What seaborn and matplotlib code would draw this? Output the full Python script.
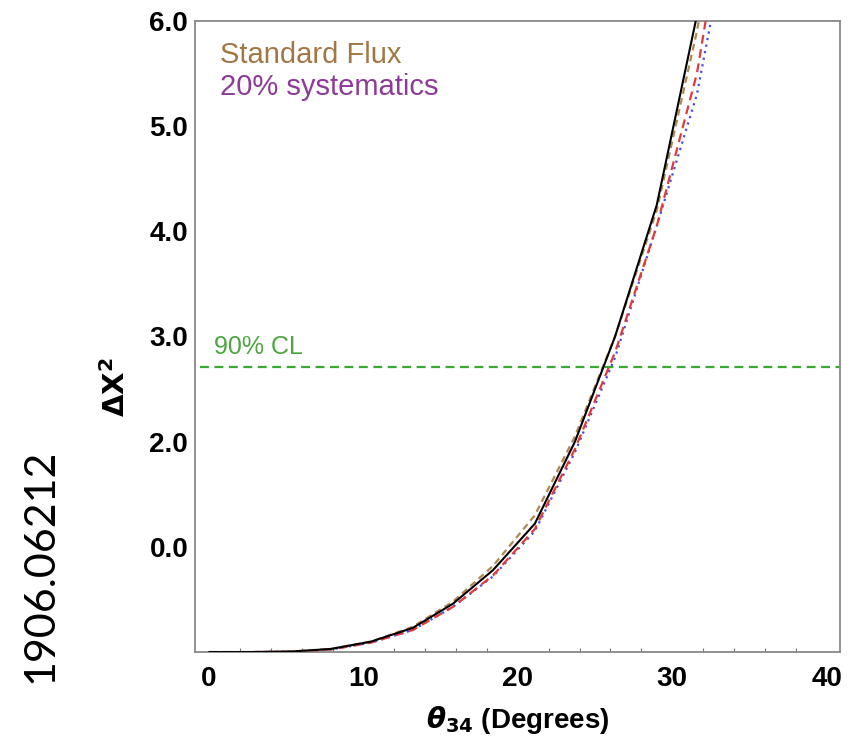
import matplotlib
matplotlib.use("Agg")
import matplotlib.pyplot as plt
from matplotlib.ticker import MultipleLocator, FixedLocator, FixedFormatter
import seaborn as sns
import numpy as np

sns.set_style("white")
plt.rcParams['font.family'] = ['Liberation Sans', 'DejaVu Sans']
plt.rcParams['text.color'] = 'black'
plt.rcParams['axes.labelcolor'] = 'black'
plt.rcParams['xtick.color'] = 'black'
plt.rcParams['ytick.color'] = 'black'

# ---- data ----
theta = [0, 2.6, 5.3, 7.9, 10.5, 13.2, 15.8, 18.4, 21.1, 23.7, 26.3, 29.0, 31.6, 34.2]
chi_black = [0, 0.0, 0.005, 0.03, 0.10, 0.23, 0.46, 0.78, 1.22, 2.00, 3.00, 4.25, 6.05, 8.0]
chi_brown = [0, 0.0, 0.005, 0.03, 0.10, 0.24, 0.48, 0.82, 1.30, 2.05, 3.00, 4.20, 5.90, 8.0]
chi_red = [0, 0.0, 0.004, 0.025, 0.09, 0.21, 0.43, 0.73, 1.17, 1.93, 2.85, 4.05, 5.50, 7.8]
chi_blue = [0, 0.0, 0.004, 0.025, 0.09, 0.21, 0.43, 0.72, 1.15, 1.90, 2.80, 4.05, 5.30, 7.3]
cl90 = 2.71
ytick_pos = [1, 2, 3, 4, 5, 6]
ytick_labels = ['0.0', '2.0', '3.0', '4.0', '5.0', '6.0']
xtick_pos = [0, 10, 20, 30, 40]

fig = plt.figure(figsize=(8.56, 7.41), dpi=100)
ax = fig.add_axes([0.228, 0.120, 0.753, 0.852])

# green CL line
ax.plot([-0.6, 41], [cl90, cl90], color='#3aa832', lw=1.6, ls=(0, (4, 2.5)), zorder=2)
ax.text(0.35, 2.79, '90% CL', color='#4aa83e', fontsize=18, va='bottom', ha='left')

sns.lineplot(x=theta, y=chi_blue, color='#4a4ae6', lw=1.6, ax=ax, ls=(0, (1, 2)), zorder=3)
sns.lineplot(x=theta, y=chi_red, color='#e23a3a', lw=1.6, ax=ax, ls=(0, (4, 2.5)), zorder=3)
sns.lineplot(x=theta, y=chi_brown, color='#b08850', lw=1.6, ax=ax, ls=(0, (3, 2)), zorder=3)
sns.lineplot(x=theta, y=chi_black, color='black', lw=1.5, ax=ax, zorder=4)

ax.set_xlim(-0.9, 40.85)
ax.set_ylim(0, 6)

ax.xaxis.set_major_locator(FixedLocator(xtick_pos))
ax.xaxis.set_minor_locator(MultipleLocator(2))
ax.yaxis.set_major_locator(FixedLocator(ytick_pos))
ax.yaxis.set_major_formatter(FixedFormatter(ytick_labels))

ax.tick_params(axis='both', which='major', direction='in', length=5, width=1, color='#777777',
               labelsize=20, labelcolor='black')
ax.tick_params(axis='x', which='major', pad=10)
ax.tick_params(axis='y', which='major', pad=5)
ax.tick_params(axis='x', which='minor', direction='in', length=3, width=0.8, color='#777777', bottom=True)
ax.tick_params(axis='y', which='minor', left=False)
for lab in ax.get_xticklabels() + ax.get_yticklabels():
    lab.set_fontweight('bold')

for sp in ax.spines.values():
    sp.set_color('#888888')
    sp.set_linewidth(1.3)

ax.set_xlabel(r'$\boldsymbol{\theta}_{\mathbf{34}}$ (Degrees)', fontsize=20, fontweight='bold')
ax.xaxis.set_label_coords(0.5, -0.082)
ax.set_ylabel(r'$\mathbf{\Delta X^2}$', fontsize=21, fontweight='bold')
ax.yaxis.set_label_coords(-0.10, 0.42)

ax.text(0.038, 0.946, 'Standard Flux', transform=ax.transAxes, color='#a37745', fontsize=21,
        ha='left', va='center')
ax.text(0.038, 0.895, '20% systematics', transform=ax.transAxes, color='#8e3a9a', fontsize=21,
        ha='left', va='center')

fig.text(0.047, 0.237, '1906.06212', rotation=90, fontsize=31, family=['Lato', 'DejaVu Sans'],
         ha='center', va='center', color='black')

fig.savefig('out.png', dpi=100)
